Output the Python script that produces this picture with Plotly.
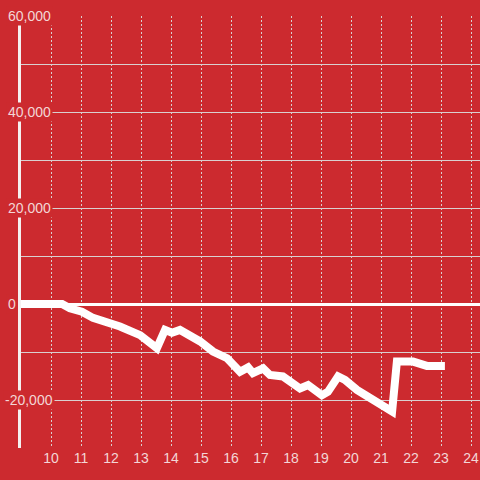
import plotly.graph_objects as go

hours = [9.0, 10.37, 10.63, 11.03, 11.4, 11.87, 12.3, 12.97, 13.2, 13.53, 13.8, 14.03, 14.3,
         14.97, 15.4, 15.87, 16.3, 16.57, 16.73, 16.9, 17.07, 17.3, 17.73, 18.3, 18.57,
         19.03, 19.23, 19.57, 19.8, 20.2, 20.73, 21.2, 21.37, 21.53, 22.07, 22.53, 23.13]
values = [0, 0, -900, -1600, -2900, -3700, -4700, -6500, -7500, -9200, -5400, -6000, -5400,
          -7800, -9900, -11300, -14100, -13200, -14400, -14100, -13400, -14800, -15100, -17600, -16900,
          -19000, -18300, -15100, -15800, -17900, -20000, -22100, -22400, -12000, -12000, -12900, -12900]

x_ticks = list(range(10, 25))
y_label_vals = [60000, 40000, 20000, 0, -20000]
y_label_text = ["60,000", "40,000", "20,000", "0", "-20,000"]

BG = "#cc2a2f"
TXT = "#f3d6d6"
GRID = "#d9d0d0"
FONT = "Liberation Sans, Arial, sans-serif"

fig = go.Figure()
fig.add_trace(go.Scatter(x=hours, y=values, mode="lines",
                         line=dict(color="white", width=8), hoverinfo="skip"))

L, R, T, B = 21, 0, 16, 32
W = 480 - L - R

annotations = []
for v, t in zip(y_label_vals, y_label_text):
    annotations.append(dict(
        x=-15 / W if not t.startswith("-") else -18 / W, xref="paper", y=v, yref="y",
        xanchor="left", yanchor="middle", text=t, showarrow=False,
        font=dict(family=FONT, size=14, color=TXT), bgcolor=BG, borderpad=1))

fig.update_layout(
    width=480, height=480,
    margin=dict(l=L, r=R, t=T, b=B, autoexpand=False),
    paper_bgcolor=BG, plot_bgcolor=BG,
    showlegend=False,
    annotations=annotations,
    xaxis=dict(range=[9, 9 + W / 30], tickvals=x_ticks, ticktext=[str(v) for v in x_ticks],
               showgrid=True, gridcolor=GRID, griddash="2px,2px", gridwidth=1,
               zeroline=False, showline=False, ticks="", automargin=False,
               tickfont=dict(family=FONT, size=14, color=TXT)),
    yaxis=dict(range=[-30000, 60000], dtick=10000, showticklabels=False,
               showgrid=True, gridcolor=GRID, gridwidth=1, automargin=False,
               zeroline=True, zerolinecolor="white", zerolinewidth=3,
               showline=True, linecolor="#f5f0f0", linewidth=3, ticks=""),
)

fig.write_html("out.html", config={"displayModeBar": False},
               post_script="document.body.style.margin='0';document.body.style.background='%s';" % BG)
